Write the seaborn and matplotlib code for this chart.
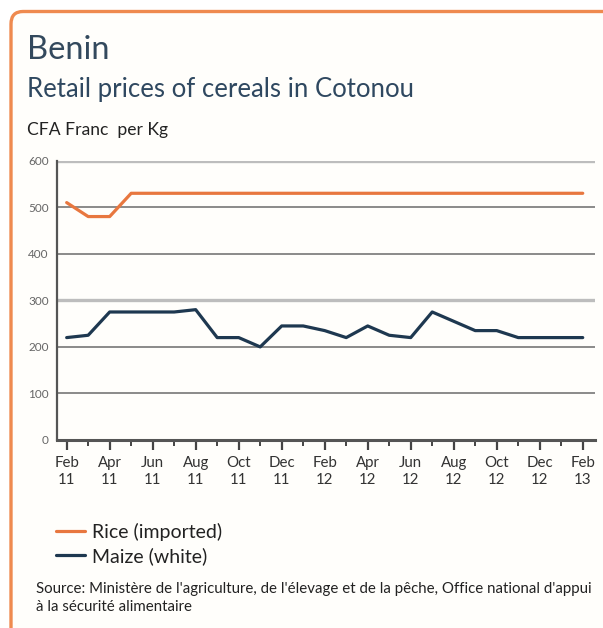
import matplotlib
matplotlib.use("Agg")
import matplotlib.pyplot as plt
from matplotlib.patches import FancyBboxPatch
import seaborn as sns
import pandas as pd

# Monthly retail prices, Feb 2011 - Feb 2013 (CFA Franc per kg)
months = ["Feb 11", "Mar 11", "Apr 11", "May 11", "Jun 11", "Jul 11", "Aug 11",
          "Sep 11", "Oct 11", "Nov 11", "Dec 11", "Jan 12", "Feb 12", "Mar 12",
          "Apr 12", "May 12", "Jun 12", "Jul 12", "Aug 12", "Sep 12", "Oct 12",
          "Nov 12", "Dec 12", "Jan 13", "Feb 13"]
rice = [510, 480, 480, 530, 530, 530, 530, 530, 530, 530, 530, 530, 530, 530,
        530, 530, 530, 530, 530, 530, 530, 530, 530, 530, 530]
maize = [220, 225, 275, 275, 275, 275, 280, 220, 220, 200, 245, 245, 235, 220,
         245, 225, 220, 275, 255, 235, 235, 220, 220, 220, 220]
series_names = ["Rice (imported)", "Maize (white)"]
tick_labels = ["Feb\n11", "Apr\n11", "Jun\n11", "Aug\n11", "Oct\n11", "Dec\n11",
               "Feb\n12", "Apr\n12", "Jun\n12", "Aug\n12", "Oct\n12", "Dec\n12",
               "Feb\n13"]
y_ticks = [0, 100, 200, 300, 400, 500, 600]

df = pd.DataFrame({
    "idx": list(range(len(months))) * 2,
    "price": rice + maize,
    "series": [series_names[0]] * len(rice) + [series_names[1]] * len(maize),
})

sns.set_theme(style="white")
plt.rcParams["font.family"] = ["Lato", "DejaVu Sans"]

W, H = 603, 628
fig = plt.figure(figsize=(W / 100, H / 100), dpi=100)
fig.patch.set_facecolor("white")

# Orange frame with a rounded top-left corner
frame = FancyBboxPatch((11 / W, -0.05), 1.2, 1.05 - 11.5 / H,
                       boxstyle="round,pad=0,rounding_size=0.02",
                       transform=fig.transFigure, facecolor="#fffefb",
                       edgecolor="#ef8a4f", linewidth=2.4, zorder=-5)
fig.patches.append(frame)

ax = fig.add_axes([57 / W, 1 - 440 / H, 538 / W, 279.3 / H])
ax.set_zorder(2)
ax.set_facecolor("none")

palette = {series_names[0]: "#e8773f", series_names[1]: "#1e3850"}
sns.lineplot(data=df, x="idx", y="price", hue="series", palette=palette,
             linewidth=2.3, ax=ax, zorder=5)

ax.set_xlim(-0.45, 24.57)
ax.set_ylim(0, 600)
ax.set_xlabel("")
ax.set_ylabel("")

ax.set_xticks(list(range(0, 25, 2)))
ax.set_xticks(list(range(1, 25, 2)), minor=True)
ax.set_xticklabels(tick_labels, fontsize=10.8, color="#333333", linespacing=1.3)
ax.set_yticks(y_ticks)
ax.set_yticklabels([str(v) for v in y_ticks], fontsize=8.5, color="#666666")
ax.tick_params(axis="x", which="major", direction="out", length=7, width=1.6,
               color="#444444", pad=4.5, bottom=True)
ax.tick_params(axis="x", which="minor", direction="out", length=4, width=1.4,
               color="#444444", bottom=True)
ax.tick_params(axis="y", length=0, pad=6)

# Horizontal grid: 300 and 600 in a lighter, wider stroke
ax.grid(axis="y", zorder=1)
for val, gl in zip(y_ticks, ax.get_ygridlines()):
    if val in (300, 600):
        gl.set_color("#bdbdbd")
        gl.set_linewidth(2.4)
    else:
        gl.set_color("#6b6b6b")
        gl.set_linewidth(1.1)

for side in ("top", "right"):
    ax.spines[side].set_visible(False)
ax.spines["left"].set_color("#555555")
ax.spines["left"].set_linewidth(1.6)
ax.spines["bottom"].set_color("#555555")
ax.spines["bottom"].set_linewidth(2.2)

sns.move_legend(ax, loc="upper left", bbox_to_anchor=(56 / W, 1 - 523 / H),
                bbox_transform=fig.transFigure, frameon=False, title=None,
                fontsize=14, handlelength=1.5, handletextpad=0.35,
                labelspacing=0.3, borderpad=0, borderaxespad=0)
for ln in ax.get_legend().get_lines():
    ln.set_linewidth(2.3)
for t in ax.get_legend().get_texts():
    t.set_color("#222222")

fig.text(27 / W, 1 - 50 / H, "Benin", fontsize=23.5, color="#33495d",
         va="center", ha="left")
fig.text(27 / W, 1 - 90 / H, "Retail prices of cereals in Cotonou", fontsize=18.5,
         color="#2f4860", va="center", ha="left")
fig.text(27 / W, 1 - 130 / H, "CFA Franc  per Kg", fontsize=12.6,
         color="#222222", va="center", ha="left")
fig.text(36 / W, 1 - 598 / H,
         "Source: Ministère de l'agriculture, de l'élevage et de la pêche, "
         "Office national d'appui\nà la sécurité alimentaire",
         fontsize=10.8, color="#222222", va="center", ha="left", linespacing=1.35)

fig.savefig("out.png", dpi=100)
